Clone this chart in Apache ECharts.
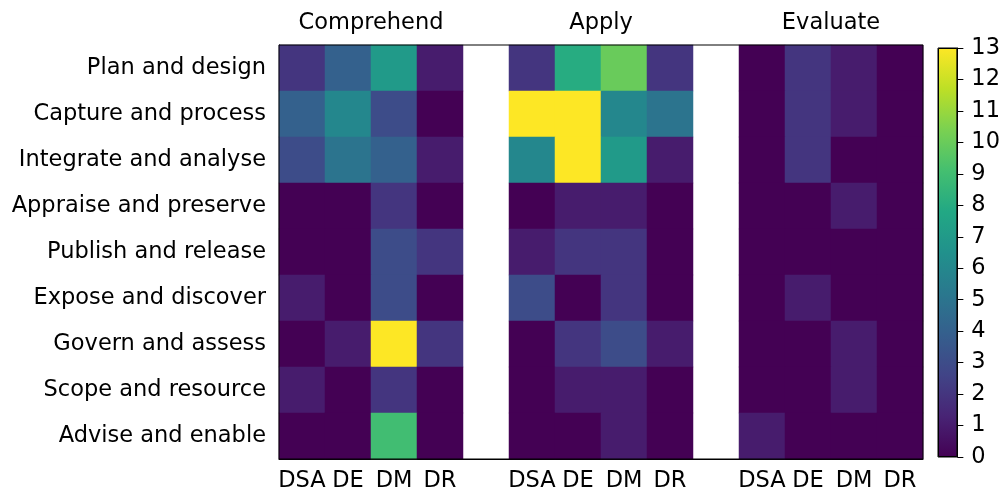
<!DOCTYPE html>
<html>
<head>
<meta charset="utf-8">
<script src="https://cdn.jsdelivr.net/npm/echarts@6/dist/echarts.min.js"></script>
<style>
  html, body { margin: 0; padding: 0; background: #fff; }
  #chart { width: 1003px; height: 495px; }
</style>
</head>
<body>
<div id="chart"></div>
<script>
  const rows = ['Plan and design', 'Capture and process', 'Integrate and analyse', 'Appraise and preserve',
    'Publish and release', 'Expose and discover', 'Govern and assess', 'Scope and resource', 'Advise and enable'];
  const roles = ['DSA', 'DE', 'DM', 'DR'];
  const groups = ['Comprehend', 'Apply', 'Evaluate'];

  const comprehend = [
    [2, 4, 7, 1],
    [4, 6, 3, 0],
    [3, 5, 4, 1],
    [0, 0, 2, 0],
    [0, 0, 3, 2],
    [1, 0, 3, 0],
    [0, 1, 13, 2],
    [1, 0, 2, 0],
    [0, 0, 9, 0]
  ];
  const apply = [
    [2, 8, 10, 2],
    [13, 13, 6, 5],
    [6, 13, 7, 1],
    [0, 1, 1, 0],
    [1, 2, 2, 0],
    [3, 0, 2, 0],
    [0, 2, 3, 1],
    [0, 1, 1, 0],
    [0, 0, 1, 0]
  ];
  const evaluate = [
    [0, 2, 1, 0],
    [0, 2, 1, 0],
    [0, 2, 0, 0],
    [0, 0, 1, 0],
    [0, 0, 0, 0],
    [0, 1, 0, 0],
    [0, 0, 1, 0],
    [0, 0, 1, 0],
    [1, 0, 0, 0]
  ];
  const colorTicks = [0, 13];

  const viridis = ['#440154', '#482475', '#414487', '#355f8d', '#2a788e', '#21918c',
    '#22a884', '#44bf70', '#7ad151', '#bddf26', '#fde725'];

  const font = 'DejaVu Sans';
  const fs = 22.5;

  // columns: 4 roles, blank, 4 roles, blank, 4 roles
  const columns = [];
  groups.forEach((g, gi) => {
    if (gi > 0) columns.push('');
    roles.forEach((r) => columns.push(r));
  });

  const cells = [];
  [comprehend, apply, evaluate].forEach((m, gi) => {
    m.forEach((row, ri) => {
      row.forEach((v, ci) => cells.push([gi * 5 + ci, ri, v]));
    });
  });

  const chart = echarts.init(document.getElementById('chart'));
  chart.setOption({
    animation: false,
    textStyle: { fontFamily: font },
    grid: [
      // whole-pixel cells (46px) so neighbouring cells leave no seams
      { left: 279, width: 644, top: 45, height: 414, show: true, borderColor: '#000', borderWidth: 1, backgroundColor: 'transparent', z: 5 },
      { left: 938, width: 21, top: 48, bottom: 38, show: true, borderColor: '#000', borderWidth: 1, backgroundColor: 'transparent' }
    ],
    xAxis: [
      {
        type: 'category',
        gridIndex: 0,
        data: columns,
        axisLine: { lineStyle: { color: '#000' } },
        axisTick: { alignWithLabel: true, length: 6, lineStyle: { color: '#000' } },
        axisLabel: { interval: 0, color: '#000', fontSize: fs, fontFamily: font, margin: 11 },
        splitLine: { show: false }
      },
      {
        type: 'value',
        gridIndex: 0,
        position: 'top',
        min: 0,
        max: columns.length,
        axisLine: { show: false },
        axisTick: { show: false },
        splitLine: { show: false },
        axisLabel: {
          customValues: groups.map((g, i) => i * 5 + 2),
          formatter: (v) => groups[Math.round((v - 2) / 5)],
          color: '#000', fontSize: fs, fontFamily: font, margin: 10
        }
      },
      {
        type: 'category',
        gridIndex: 1,
        data: ['bar'],
        show: false
      }
    ],
    yAxis: [
      {
        type: 'category',
        gridIndex: 0,
        data: rows,
        inverse: true,
        axisLine: { lineStyle: { color: '#000' } },
        axisTick: { alignWithLabel: true, length: 6, lineStyle: { color: '#000' } },
        axisLabel: { interval: 0, color: '#000', fontSize: fs, fontFamily: font, margin: 13 },
        splitLine: { show: false }
      },
      {
        type: 'value',
        gridIndex: 1,
        position: 'right',
        min: colorTicks[0],
        max: colorTicks[1],
        interval: 1,
        axisLine: { show: true, lineStyle: { color: '#000' } },
        axisTick: { show: true, length: 6, lineStyle: { color: '#000' } },
        axisLabel: { color: '#000', fontSize: fs, fontFamily: font, margin: 14 },
        splitLine: { show: false }
      }
    ],
    visualMap: {
      type: 'continuous',
      show: false,
      min: colorTicks[0],
      max: colorTicks[1],
      seriesIndex: 0,
      inRange: { color: viridis }
    },
    series: [
      {
        type: 'heatmap',
        xAxisIndex: 0,
        yAxisIndex: 0,
        data: cells,
        itemStyle: { borderWidth: 0 },
        emphasis: { disabled: true }
      },
      {
        type: 'bar',
        xAxisIndex: 2,
        yAxisIndex: 1,
        barWidth: '100%',
        data: [colorTicks[1]],
        itemStyle: {
          borderColor: '#000',
          borderWidth: 1,
          color: new echarts.graphic.LinearGradient(0, 1, 0, 0,
            viridis.map((c, i) => ({ offset: i / (viridis.length - 1), color: c })))
        },
        silent: true
      }
    ]
  });
</script>
</body>
</html>
